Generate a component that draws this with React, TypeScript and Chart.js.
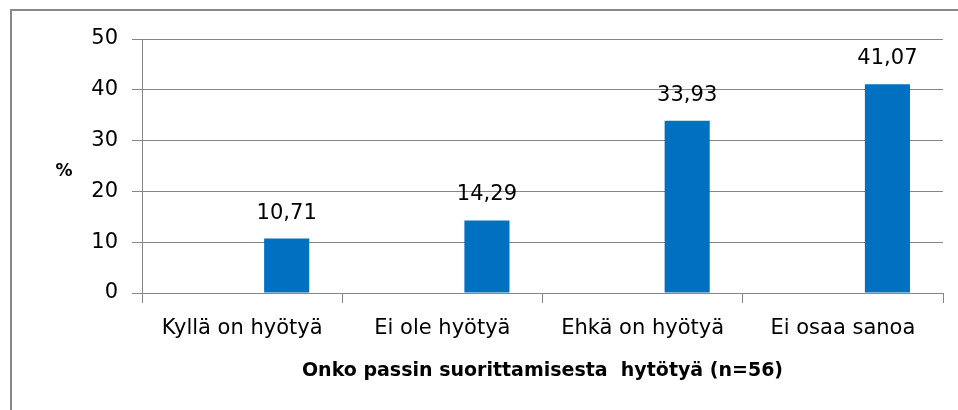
import React, { useEffect, useRef } from "react";
import { Chart, registerables } from "chart.js";

Chart.register(...registerables);

const categories = ["Kyllä on hyötyä", "Ei ole hyötyä", "Ehkä on hyötyä", "Ei osaa sanoa"];
const values = [10.71, 14.29, 33.93, 41.07];
const emptySeries = [null, null, null, null];
const yTicks = [0, 10, 20, 30, 40, 50];
const yTitle = "%";
const xTitle = "Onko passin suorittamisesta  hytötyä (n=56)";

const GRID = "#868686";
const BAR = "#0070C0";
const FONT = "DejaVu Sans";

const fmt = (v: number) => v.toFixed(2).replace(".", ",");

const framePlugin = {
  id: "frame",
  beforeDraw(chart: any) {
    const ctx = chart.ctx;
    ctx.save();
    ctx.fillStyle = "#fff";
    ctx.fillRect(0, 0, chart.width, chart.height);
    ctx.strokeStyle = "#888888";
    ctx.lineWidth = 2;
    ctx.beginPath();
    ctx.moveTo(11, chart.height + 5);
    ctx.lineTo(11, 10);
    ctx.lineTo(chart.width + 5, 10);
    ctx.stroke();
    ctx.restore();
  },
};

const labelsPlugin = {
  id: "valueLabels",
  afterDatasetsDraw(chart: any) {
    const ctx = chart.ctx;
    const meta = chart.getDatasetMeta(1);
    ctx.save();
    ctx.font = `21px "${FONT}"`;
    ctx.fillStyle = "#000";
    ctx.textAlign = "center";
    ctx.textBaseline = "alphabetic";
    meta.data.forEach((el: any, i: number) => {
      const v = values[i];
      ctx.fillText(fmt(v), el.x, el.y - 20);
    });
    ctx.restore();
  },
  afterDraw(chart: any) {
    const ctx = chart.ctx;
    const area = chart.chartArea;
    ctx.save();
    ctx.fillStyle = "#000";
    ctx.textAlign = "center";
    ctx.textBaseline = "alphabetic";
    ctx.font = `bold 17px "${FONT}"`;
    ctx.fillText(yTitle, 64, 176);
    ctx.font = `bold 19px "${FONT}"`;
    ctx.fillText(xTitle, (area.left + area.right) / 2, 376);
    ctx.restore();
  },
};

export default function App() {
  const ref = useRef<HTMLCanvasElement | null>(null);
  useEffect(() => {
    if (!ref.current) return;
    const chart = new Chart(ref.current, {
      type: "bar",
      data: {
        labels: categories,
        datasets: [
          { data: emptySeries as any, backgroundColor: BAR, borderWidth: 0 },
          { data: values, backgroundColor: BAR, borderWidth: 0 },
        ],
      },
      options: {
        animation: false,
        responsive: false,
        devicePixelRatio: 1,
        layout: { padding: { top: 39, right: 15, left: 0, bottom: 0 } },
        plugins: { legend: { display: false }, tooltip: { enabled: false }, title: { display: false } },
        datasets: { bar: { categoryPercentage: 0.89, barPercentage: 0.506 } },
        scales: {
          x: {
            type: "category",
            offset: true,
            grid: { display: true, drawOnChartArea: false, drawTicks: true, tickLength: 10, color: GRID, offset: true },
            border: { display: true, color: GRID },
            ticks: { font: { family: FONT, size: 21 }, color: "#000", padding: 13, maxRotation: 0, autoSkip: false },
            afterFit: (s: any) => { s.height = 117; },
          },
          y: {
            min: 0,
            max: 50,
            afterBuildTicks: (s: any) => { s.ticks = yTicks.map((v) => ({ value: v })); },
            grid: { color: GRID, tickLength: 10, drawTicks: true },
            border: { display: true, color: GRID },
            ticks: { font: { family: FONT, size: 21 }, color: "#000", padding: 14 },
            afterFit: (s: any) => { s.width = 142; },
          },
        },
      },
      plugins: [framePlugin, labelsPlugin],
    });
    return () => chart.destroy();
  }, []);
  return (
    <div style={{ position: "absolute", left: 0, top: 0, width: 958, height: 410 }}>
      <canvas ref={ref} width={958} height={410} style={{ width: 958, height: 410, display: "block" }} />
    </div>
  );
}
